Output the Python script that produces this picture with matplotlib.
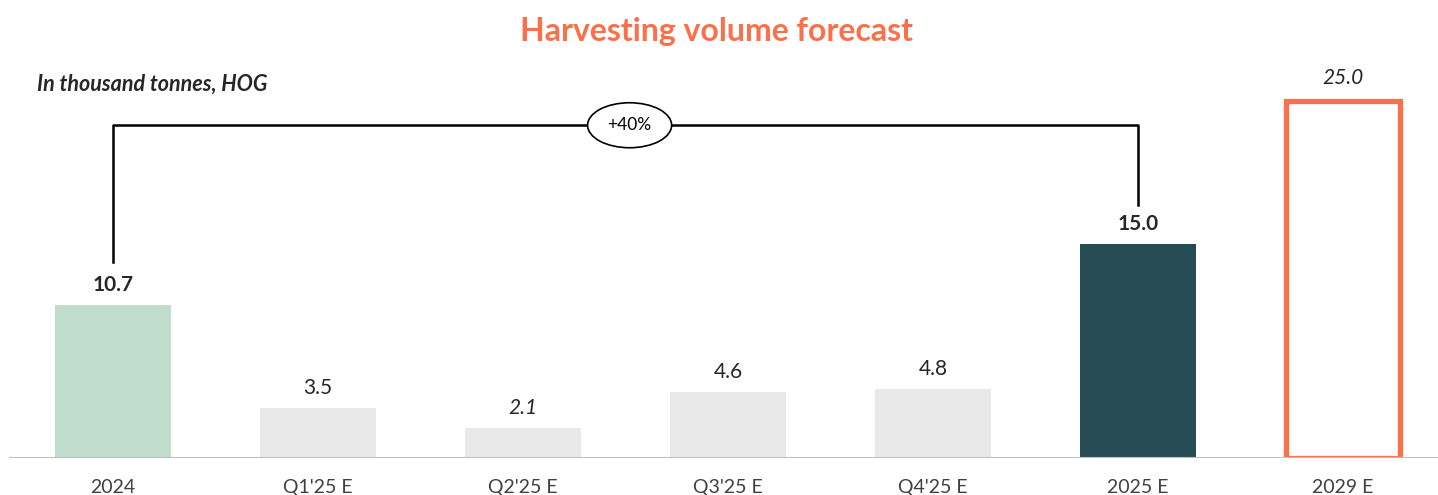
import matplotlib.pyplot as plt
from matplotlib.patches import Ellipse

categories = ['2024', "Q1'25 E", "Q2'25 E", "Q3'25 E", "Q4'25 E", '2025 E', '2029 E']
values = [10.7, 3.5, 2.1, 4.6, 4.8, 15.0, 25.0]
value_labels = ['10.7', '3.5', '2.1', '4.6', '4.8', '15.0', '25.0']
growth_label = '+40%'

orange = '#F9714A'
fills = ['#BFDCCD', '#E8E8E8', '#E8E8E8', '#E8E8E8', '#E8E8E8', '#264D55', 'white']
label_weight = ['bold', 'normal', 'normal', 'normal', 'normal', 'bold', 'normal']
label_style = ['normal', 'normal', 'italic', 'normal', 'normal', 'normal', 'italic']

plt.rcParams['font.family'] = ['Lato', 'DejaVu Sans']

fig = plt.figure(figsize=(14.38, 4.95), dpi=100)
ax = fig.add_axes([0, 37 / 495, 1, 458 / 495])
x = list(range(len(categories)))
bars = ax.bar(x, values, width=0.57, color=fills, zorder=2)
# last bar is outlined only
bars[-1].set_edgecolor(orange)
bars[-1].set_linewidth(3.8)
bars[-1].set_width(0.555)
bars[-1].set_x(6 - 0.2775)

ax.set_xlim(-0.551, 6.463)
ax.set_ylim(0, 32.07)
ax.axhline(0, xmin=0.007, xmax=1, color='#BFBFBF', lw=1.5, zorder=3)
for s in ax.spines.values():
    s.set_visible(False)
ax.set_yticks([])
ax.set_xticks(x)
ax.set_xticklabels(categories, fontsize=14, color='#404040')
ax.tick_params(axis='x', length=0, pad=15)

for i, v in enumerate(values):
    off = 0.7 if i < 6 else 0.9
    ax.text(i, v + off, value_labels[i], ha='center', va='bottom', fontsize=15,
            fontweight=label_weight[i], fontstyle=label_style[i], color='#262626')

# growth bracket from 2024 to 2025 E
top = 23.3
ax.plot([0, 0, 5, 5], [values[0] + 3.0, top, top, values[5] + 2.7], color='black', lw=1.8, zorder=1)
ax.add_patch(Ellipse((2.52, top), 0.41, 3.15, facecolor='white', edgecolor='black', lw=1.2, zorder=4))
ax.text(2.52, top, growth_label, ha='center', va='center', fontsize=12.5, zorder=5)

fig.text(716 / 1438, 1 - 32 / 495, 'Harvesting volume forecast', ha='center', va='center',
         fontsize=23, fontweight='bold', color=orange)
fig.text(37 / 1438, 1 - 84 / 495, 'In thousand tonnes, HOG', ha='left', va='center',
         fontsize=15.5, fontweight='bold', fontstyle='italic', color='#262626')

fig.savefig('out.png', dpi=100)
